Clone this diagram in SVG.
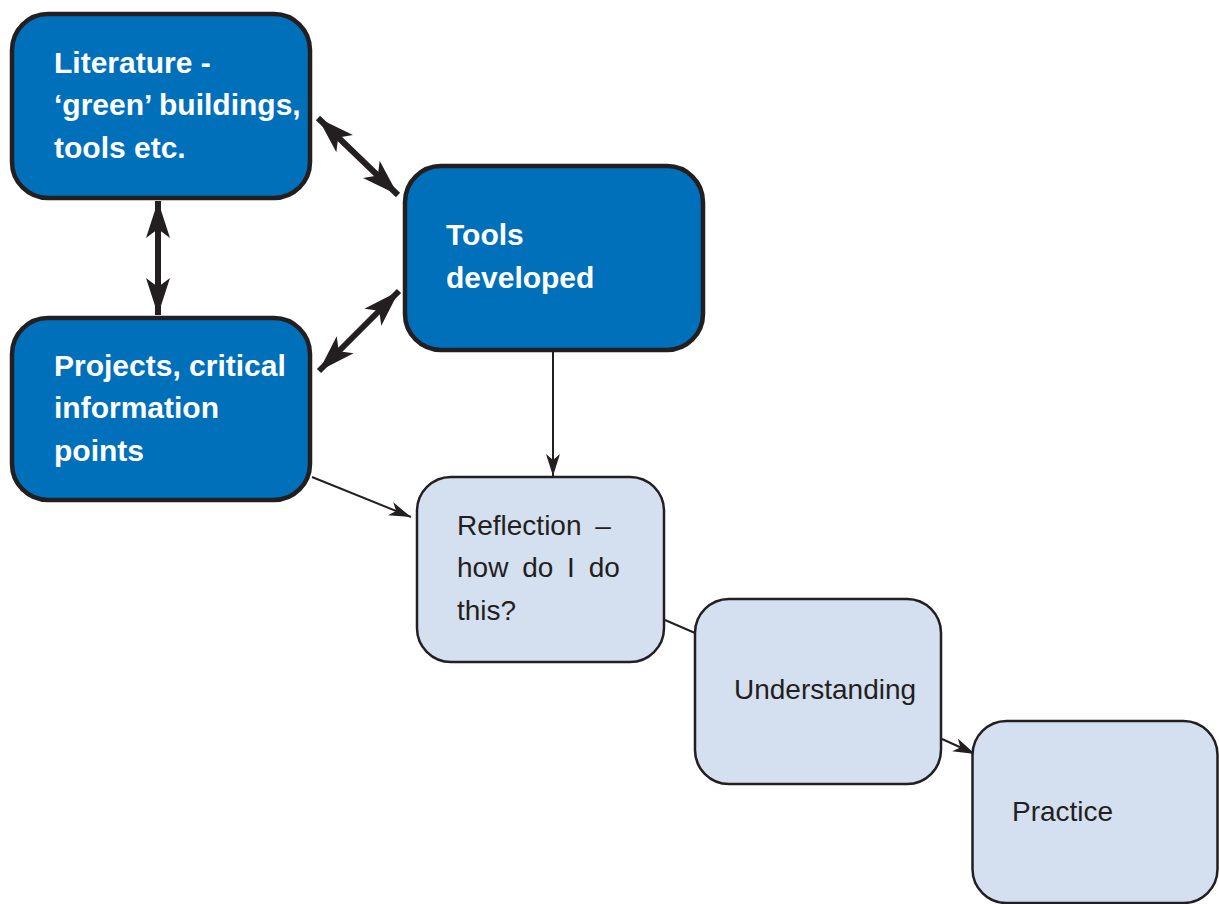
<svg xmlns="http://www.w3.org/2000/svg" width="1219" height="904" viewBox="0 0 1219 904">
<style>
.dark{fill:#0070bb;stroke:#231f20;stroke-width:4.5}
.light{fill:#d4dff0;stroke:#231f20;stroke-width:2.5}
.tb{font-family:"Liberation Sans",Arial,sans-serif;font-weight:bold;font-size:30px;fill:#ffffff}
.tr{font-family:"Liberation Sans",Arial,sans-serif;font-size:28px;fill:#231f20}
.thick{stroke:#231f20;stroke-width:6;fill:none}
.thin{stroke:#231f20;stroke-width:2;fill:none}
</style>
<defs>
<marker id="big" markerUnits="userSpaceOnUse" viewBox="-38 -13 40 26" refX="0" refY="0" markerWidth="40" markerHeight="26" orient="auto-start-reverse">
<path d="M0,0 L-37,-12 L-28,0 L-37,12 z" fill="#231f20"/>
</marker>
<marker id="small" markerUnits="userSpaceOnUse" viewBox="-22 -8 24 16" refX="0" refY="0" markerWidth="24" markerHeight="16" orient="auto">
<path d="M0,0 L-22,-7 L-16,0 L-22,7 z" fill="#231f20"/>
</marker>
</defs>
<rect width="1219" height="904" fill="#ffffff"/>
<g id="connectors">
<line class="thick" x1="318" y1="118" x2="398" y2="195" marker-start="url(#big)" marker-end="url(#big)"/>
<line class="thick" x1="158" y1="201" x2="158" y2="315" marker-start="url(#big)" marker-end="url(#big)"/>
<line class="thick" x1="319" y1="371" x2="399" y2="291" marker-start="url(#big)" marker-end="url(#big)"/>
<line class="thin" x1="553" y1="352" x2="553" y2="476" marker-end="url(#small)"/>
<line class="thin" x1="312" y1="477" x2="411" y2="517" marker-end="url(#small)"/>
<line class="thin" x1="665" y1="620" x2="695" y2="633"/>
<line class="thin" x1="942" y1="739" x2="975" y2="754" marker-end="url(#small)"/>
</g>
<g id="literature">
<rect class="dark" x="12" y="14" width="298" height="184" rx="36"/>
<text class="tb"><tspan x="54" y="73">Literature -</tspan><tspan x="54" y="115">‘green’ buildings,</tspan><tspan x="54" y="158">tools etc.</tspan></text>
</g>
<g id="projects">
<rect class="dark" x="12" y="318" width="298" height="182" rx="36"/>
<text class="tb"><tspan x="54" y="376">Projects, critical</tspan><tspan x="54" y="418">information</tspan><tspan x="54" y="461">points</tspan></text>
</g>
<g id="tools">
<rect class="dark" x="405" y="166" width="298" height="184" rx="36"/>
<text class="tb"><tspan x="446" y="245">Tools</tspan><tspan x="446" y="288">developed</tspan></text>
</g>
<g id="reflection">
<rect class="light" x="417" y="477" width="247" height="185" rx="34"/>
<text class="tr" word-spacing="6"><tspan x="457" y="535">Reflection –</tspan><tspan x="457" y="577">how do I do</tspan><tspan x="457" y="620">this?</tspan></text>
</g>
<g id="understanding">
<rect class="light" x="695" y="599" width="246" height="185" rx="34"/>
<text class="tr" x="734" y="699">Understanding</text>
</g>
<g id="practice">
<rect class="light" x="972.5" y="721" width="245" height="182" rx="34"/>
<text class="tr" x="1012" y="821">Practice</text>
</g>
</svg>
